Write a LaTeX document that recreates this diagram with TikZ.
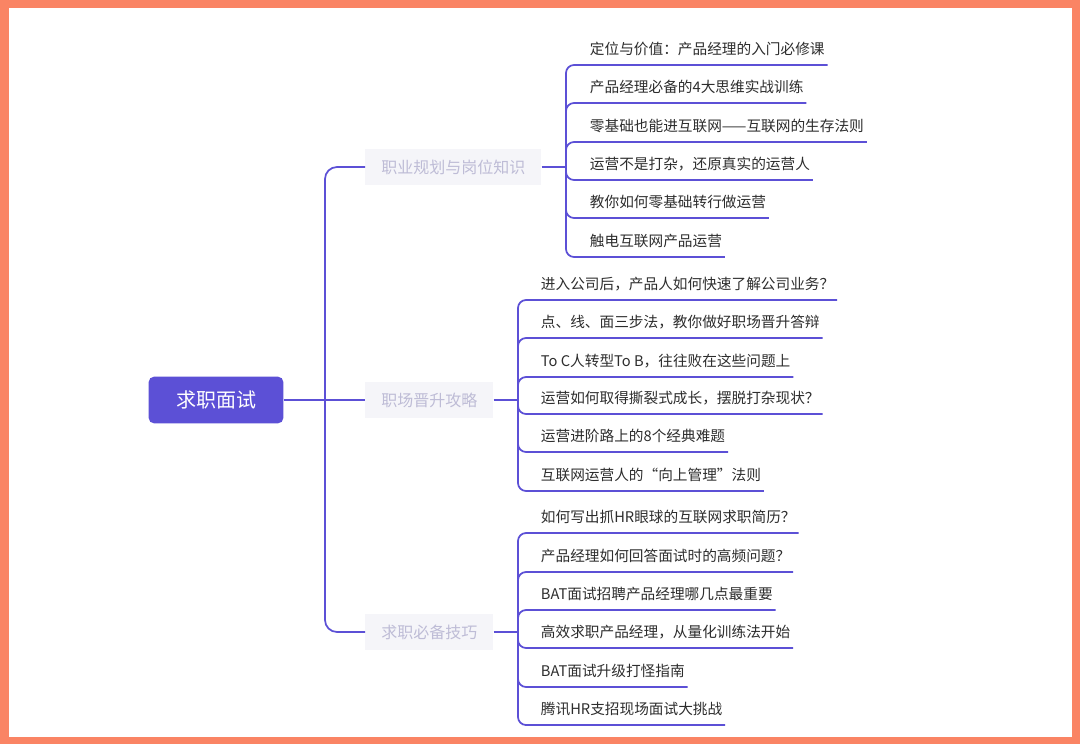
\documentclass[tikz,border=0pt]{standalone}
\usepackage{fontspec}
\setmainfont{Noto Sans CJK SC}
\definecolor{frameorange}{RGB}{250,132,100}
\definecolor{mainc}{RGB}{92,80,214}
\definecolor{lblfill}{RGB}{245,245,249}
\definecolor{lbltext}{RGB}{190,188,214}
\definecolor{leaftext}{RGB}{45,45,45}
\begin{document}
\begin{tikzpicture}[x=0.75pt,y=-0.75pt,
  conn/.style={draw=mainc, line width=1.3pt, rounded corners=6pt},
  rootbox/.style={fill=mainc, rounded corners=4pt, text=white, font=\fontsize{15}{18}\selectfont, minimum width=101pt, minimum height=35pt, inner sep=0pt},
  branchbox/.style={fill=lblfill, text=lbltext, font=\fontsize{12}{14}\selectfont, minimum height=27pt, inner xsep=12pt, anchor=west},
  leaf/.style={anchor=south west, text=leaftext, font=\fontsize{11}{13}\selectfont, inner xsep=2pt, inner ysep=5.6pt, text height=8.8pt, text depth=2.2pt},
]
\useasboundingbox (0,0) rectangle (1080,744);
\fill[frameorange] (0,0) rectangle (1080,744);
\fill[white] (9,8) rectangle (1072,737);

% root and branches
\node[rootbox] (root) at (216,400) {求职面试};
\node[branchbox] (b1) at (365,167) {职业规划与岗位知识};
\node[branchbox] (b2) at (365,400) {职场晋升攻略};
\node[branchbox] (b3) at (365,632) {求职必备技巧};

\coordinate (sp) at (325,400);
\draw[conn] (root.east) -- (b2.west);
\draw[conn, rounded corners=9pt] (sp) |- (b1.west);
\draw[conn, rounded corners=9pt] (sp) |- (b3.west);

% branch 1 leaves
\coordinate (j1) at (566,167);
\draw[conn] (b1.east) -- (j1);
\node[leaf] (l11) at (587,65)  {定位与价值：产品经理的入门必修课};
\node[leaf] (l12) at (587,103) {产品经理必备的4大思维实战训练};
\node[leaf] (l13) at (587,142) {零基础也能进互联网——互联网的生存法则};
\node[leaf] (l14) at (587,180) {运营不是打杂，还原真实的运营人};
\node[leaf] (l15) at (587,218) {教你如何零基础转行做运营};
\node[leaf] (l16) at (587,257) {触电互联网产品运营};
\foreach \n in {l11,l12,l13,l14,l15,l16} \draw[conn] (j1) |- (\n.south east);

% branch 2 leaves
\coordinate (j2) at (518,400);
\draw[conn] (b2.east) -- (j2);
\node[leaf] (l21) at (538,300) {进入公司后，产品人如何快速了解公司业务？};
\node[leaf] (l22) at (538,338) {点、线、面三步法，教你做好职场晋升答辩};
\node[leaf] (l23) at (538,377) {To C人转型To B，往往败在这些问题上};
\node[leaf] (l24) at (538,414) {运营如何取得撕裂式成长，摆脱打杂现状？};
\node[leaf] (l25) at (538,452) {运营进阶路上的8个经典难题};
\node[leaf] (l26) at (538,491) {互联网运营人的“向上管理”法则};
\foreach \n in {l21,l22,l23,l24,l25,l26} \draw[conn] (j2) |- (\n.south east);

% branch 3 leaves
\coordinate (j3) at (518,632);
\draw[conn] (b3.east) -- (j3);
\node[leaf] (l31) at (538,533) {如何写出抓HR眼球的互联网求职简历？};
\node[leaf] (l32) at (538,572) {产品经理如何回答面试时的高频问题？};
\node[leaf] (l33) at (538,610) {BAT面试招聘产品经理哪几点最重要};
\node[leaf] (l34) at (538,648) {高效求职产品经理，从量化训练法开始};
\node[leaf] (l35) at (538,687) {BAT面试升级打怪指南};
\node[leaf] (l36) at (538,725) {腾讯HR支招现场面试大挑战};
\foreach \n in {l31,l32,l33,l34,l35,l36} \draw[conn] (j3) |- (\n.south east);
\end{tikzpicture}
\end{document}
